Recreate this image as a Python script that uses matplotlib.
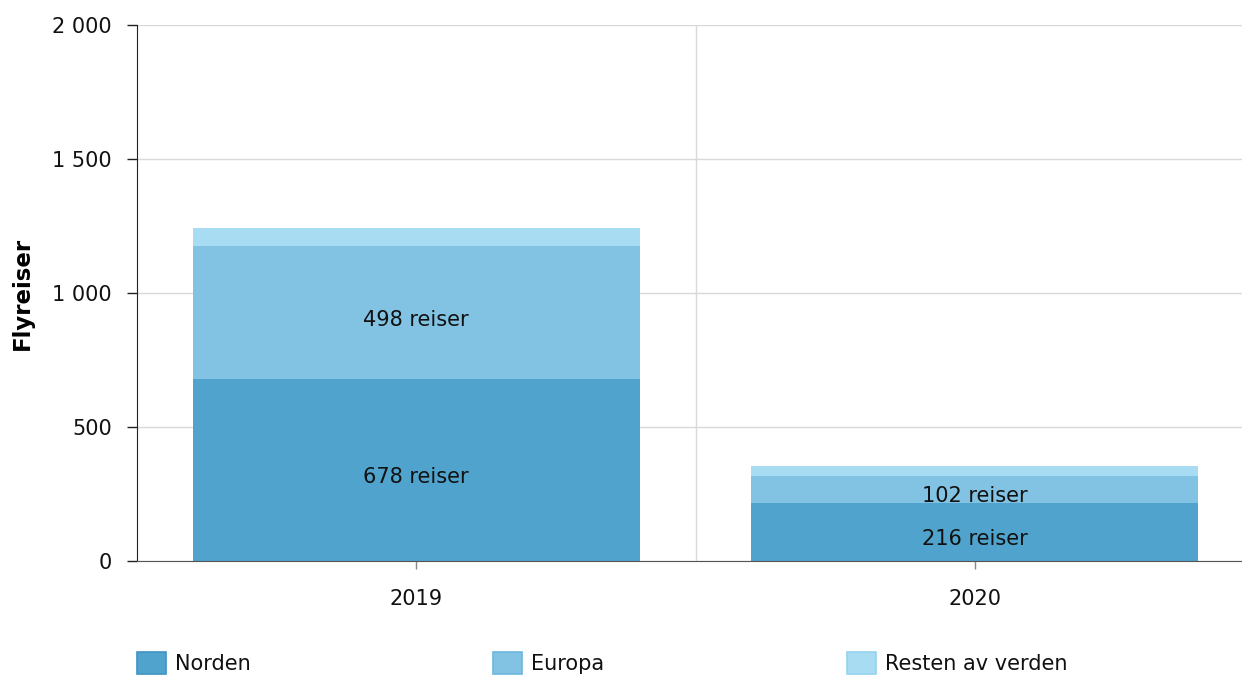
import matplotlib
matplotlib.use("Agg")
import matplotlib.pyplot as plt
from matplotlib.ticker import FuncFormatter, FixedLocator
import numpy as np

years = ["2019", "2020"]
series_names = ["Norden", "Europa", "Resten av verden"]
norden = [678, 216]
europa = [498, 102]
resten = [67, 36]
labelled = [True, True, False]
colors = ["#4fa3cc", "#82c3e3", "#a8dcf3"]
edge_colors = ["#3d94c4", "#6db7dd", "#95d3ef"]
y_ticks = [0, 500, 1000, 1500, 2000]

plt.rcParams["font.family"] = ["DejaVu Sans"]
FS = 15

fig = plt.figure(figsize=(12.42, 6.75), dpi=100)
ax = fig.add_axes([137/1242, 1-561/675, (1254-137)/1242, (561-25)/675])

x = np.arange(len(years))
width = 0.80
bottom = np.zeros(len(years))
containers = []
for name, vals, col, lab in zip(series_names, [norden, europa, resten], colors, labelled):
    vals = np.array(vals, dtype=float)
    bc = ax.bar(x, vals, width, bottom=bottom, color=col, edgecolor="none", label=name, zorder=2)
    containers.append(bc)
    if lab:
        for xi, b, v in zip(x, bottom, vals):
            ax.annotate(f"{int(v)} reiser", (xi, b + v/2), xytext=(0, -5), textcoords="offset points",
                        ha="center", va="center", fontsize=FS, color="#111111", zorder=3)
    bottom = bottom + vals

ax.set_xlim(-0.5, len(years) - 0.5)
ax.set_ylim(0, 2000)
ax.set_xticks(x)
ax.set_xticklabels(years)
ax.xaxis.set_minor_locator(FixedLocator([0.5]))
ax.set_yticks(y_ticks)
ax.yaxis.set_major_formatter(FuncFormatter(lambda v, p: f"{int(v):,}".replace(",", " ")))

ax.grid(axis="y", which="major", color="#d9d9d9", linewidth=1, zorder=0)
ax.grid(axis="x", which="minor", color="#d9d9d9", linewidth=1, zorder=0)
ax.grid(axis="x", which="major", visible=False)
ax.set_axisbelow(True)

for s in ["top", "right"]:
    ax.spines[s].set_visible(False)
ax.spines["left"].set_color("#222222")
ax.spines["bottom"].set_color("#555555")

ax.tick_params(axis="y", which="major", length=7, width=1, color="#222222", pad=11, labelsize=FS, labelcolor="#111111")
ax.tick_params(axis="x", which="major", length=6, width=1, color="#888888", pad=14, labelsize=FS, labelcolor="#111111")
ax.tick_params(axis="x", which="minor", length=0)

ax.set_ylabel("Flyreiser", fontsize=16.5, fontweight="bold", labelpad=13)

legend_x = [137/1242, 493/1242, 847/1242]
for bc, name, ec, lx in zip(containers, series_names, edge_colors, legend_x):
    h = plt.Rectangle((0, 0), 1, 1, facecolor=bc.patches[0].get_facecolor(), edgecolor=ec, linewidth=1.2)
    leg = fig.legend([h], [name], loc="center left", bbox_to_anchor=(lx, 1-663/675),
                     frameon=False, fontsize=FS, handlelength=1.4, handleheight=1.3,
                     handletextpad=0.42, borderpad=0, borderaxespad=0)
    for t in leg.get_texts():
        t.set_color("#111111")

fig.savefig("out.png", dpi=100)
